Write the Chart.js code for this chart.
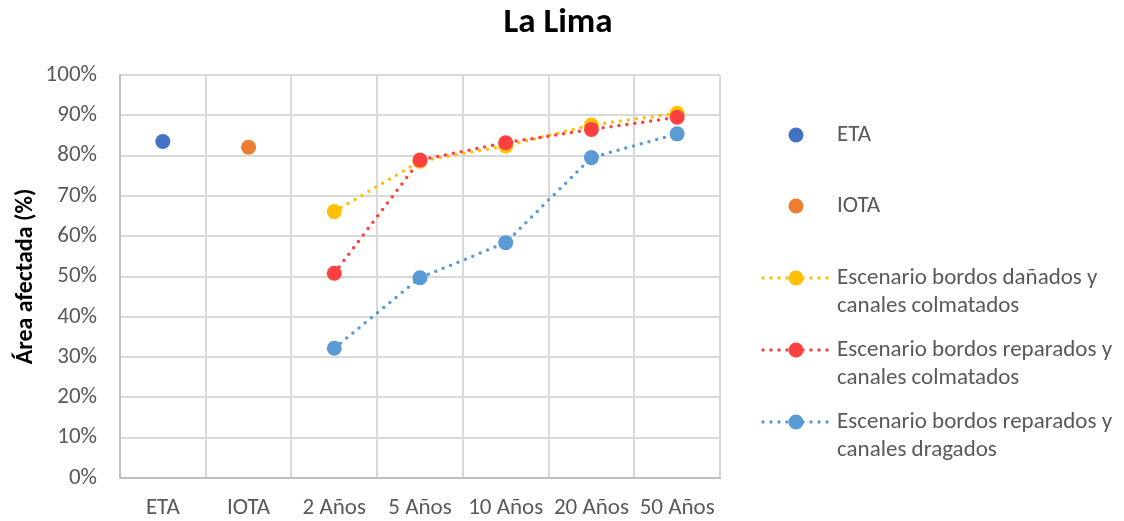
<!DOCTYPE html>
<html>
<head>
<meta charset="utf-8">
<script src="https://cdn.jsdelivr.net/npm/chart.js@4/dist/chart.umd.min.js"></script>
<style>
  html, body { margin: 0; padding: 0; background: #ffffff; }
  canvas { display: block; }
</style>
</head>
<body>
<canvas id="chart" width="1124" height="521"></canvas>
<script>
// Categories on the x axis
const categories = ['ETA', 'IOTA', '2 Años', '5 Años', '10 Años', '20 Años', '50 Años'];

// Affected area (%) per event / return period
const eta                 = [83.5, null, null, null, null, null, null];
const iota                = [null, 82.1, null, null, null, null, null];
const danadosColmatados   = [null, null, 66.1, 78.6, 82.4, 87.6, 90.5];
const reparadosColmatados = [null, null, 50.8, 78.9, 83.2, 86.5, 89.5];
const reparadosDragados   = [null, null, 32.2, 49.7, 58.4, 79.5, 85.4];

// Y axis tick values (percent)
const yTicks = [0, 10, 20, 30, 40, 50, 60, 70, 80, 90, 100];

// Legend entries (label lines)
const seriesNames = [
  ['ETA'],
  ['IOTA'],
  ['Escenario bordos dañados y', 'canales colmatados'],
  ['Escenario bordos reparados y', 'canales colmatados'],
  ['Escenario bordos reparados y', 'canales dragados']
];

const chartTitle = 'La Lima';

const FONT = 'Carlito, Lato, "Liberation Sans", sans-serif';
const TEXT = '#595959';

function pointSeries(label, data, color, order) {
  return {
    label, data, order,
    showLine: false,
    pointRadius: 7.5, pointHoverRadius: 7.5,
    pointBackgroundColor: color, pointBorderColor: color, pointBorderWidth: 0,
    borderColor: color, backgroundColor: color
  };
}
function dottedSeries(label, data, color, order) {
  return {
    label, data, order,
    showLine: true, spanGaps: false,
    borderColor: color, backgroundColor: color,
    borderWidth: 3.5, borderDash: [0, 8], borderCapStyle: 'round',
    pointRadius: 7.5, pointHoverRadius: 7.5,
    pointBackgroundColor: color, pointBorderColor: color, pointBorderWidth: 0,
    tension: 0
  };
}

// Title centred over the whole figure, plus the side legend on the right
const decorations = {
  id: 'decorations',
  afterDraw(chart) {
    const ctx = chart.ctx;
    ctx.save();
    ctx.fillStyle = '#000000';
    ctx.font = 'bold 35px ' + FONT;
    ctx.textAlign = 'center';
    ctx.textBaseline = 'middle';
    ctx.fillText(chartTitle, 558, 23);

    const markerX = 796, textX = 837, lineGap = 28;
    const rows = [135, 206, 278, 350, 422];
    chart.data.datasets.forEach((ds, i) => {
      const y = rows[i];
      if (ds.showLine) {
        ctx.save();
        ctx.strokeStyle = ds.borderColor;
        ctx.lineWidth = ds.borderWidth;
        ctx.lineCap = 'round';
        ctx.setLineDash(ds.borderDash);
        ctx.beginPath();
        ctx.moveTo(763, y);
        ctx.lineTo(830, y);
        ctx.stroke();
        ctx.restore();
      }
      ctx.fillStyle = ds.pointBackgroundColor;
      ctx.beginPath();
      ctx.arc(markerX, y, ds.pointRadius, 0, Math.PI * 2);
      ctx.fill();
      ctx.fillStyle = TEXT;
      ctx.font = '23px ' + FONT;
      ctx.textBaseline = 'middle';
      ctx.textAlign = 'left';
      seriesNames[i].forEach((line, k) => ctx.fillText(line, textX, y + k * lineGap));
    });
    ctx.restore();
  }
};

new Chart(document.getElementById('chart'), {
  type: 'line',
  data: {
    labels: categories,
    datasets: [
      pointSeries(seriesNames[0].join(' '), eta, '#4472C4', 5),
      pointSeries(seriesNames[1].join(' '), iota, '#ED7D31', 4),
      dottedSeries(seriesNames[2].join(' '), danadosColmatados, '#FFC000', 3),
      dottedSeries(seriesNames[3].join(' '), reparadosColmatados, '#FF4040', 2),
      dottedSeries(seriesNames[4].join(' '), reparadosDragados, '#5B9BD5', 1)
    ]
  },
  options: {
    responsive: false,
    animation: false,
    devicePixelRatio: 1,
    layout: { padding: { left: 0, right: 404, top: 75, bottom: 0 } },
    plugins: {
      legend: { display: false },
      tooltip: { enabled: false },
      title: { display: false }
    },
    scales: {
      x: {
        type: 'category',
        offset: true,
        grid: { offset: true, color: '#d9d9d9', lineWidth: 2, drawTicks: false },
        border: { color: '#bfbfbf', width: 2 },
        ticks: { color: TEXT, font: { family: FONT, size: 23 }, padding: 16, maxRotation: 0, autoSkip: false },
        afterFit(scale) { scale.height = 43; }
      },
      y: {
        min: 0, max: 100,
        afterBuildTicks(scale) { scale.ticks = yTicks.map(v => ({ value: v })); },
        grid: { color: '#d9d9d9', lineWidth: 2, drawTicks: false },
        border: { color: '#bfbfbf', width: 2 },
        ticks: { color: TEXT, font: { family: FONT, size: 23 }, padding: 23, callback: v => v + '%' },
        title: {
          display: true,
          text: 'Área afectada (%)',
          color: '#000000',
          font: { family: FONT, size: 24, weight: 'bold' },
          padding: { top: 12, bottom: 0 }
        },
        afterFit(scale) { scale.width = 120; }
      }
    }
  },
  plugins: [decorations]
});
</script>
</body>
</html>
